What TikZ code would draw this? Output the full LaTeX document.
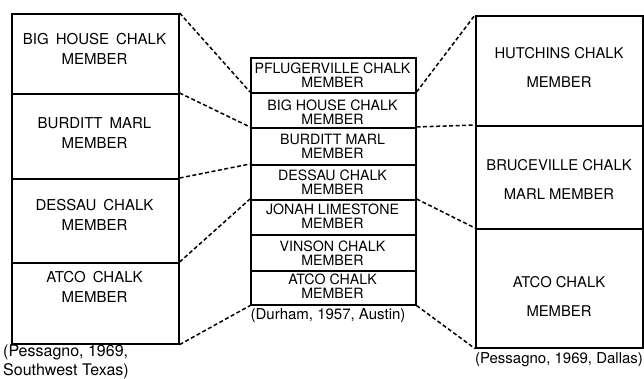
\documentclass[tikz,border=0pt]{standalone}
\usepackage{fontspec}
\setmainfont{TeX Gyre Heros}
\newcommand{\widespacing}{\spaceskip 7pt plus 1pt\relax}
\begin{document}
\begin{tikzpicture}[x=1pt,y=-1pt,
  box/.style={draw, line width=1.6pt, inner sep=0pt, anchor=north west},
  lw/.style={box, minimum width=167pt},
  cw/.style={box, minimum width=165pt},
  rw/.style={box, minimum width=167pt},
  conn/.style={line width=1.5pt, dash pattern=on 4pt off 2.5pt},
  lt/.style={align=center, inner sep=0pt, font={\fontsize{15}{20}\selectfont}},
  ct/.style={align=center, inner sep=0pt, font={\fontsize{14.2}{14}\selectfont}},
  rt/.style={align=center, inner sep=0pt, font={\fontsize{14.8}{29}\selectfont}},
  captext/.style={inner sep=0pt, font={\fontsize{15}{18}\selectfont}},
  capleft/.style={inner sep=0pt, align=left, font={\fontsize{16}{18.5}\selectfont}}]
\useasboundingbox (0,0) rectangle (644,379);
% left column
\node[lw, minimum height=80pt] (L1) at (11,13) {};
\node[lw, minimum height=85pt] (L2) at (11,93) {};
\node[lw, minimum height=84pt] (L3) at (11,178) {};
\node[lw, minimum height=81pt] (L4) at (11,262) {};
\node[lt] (tL1) at (94.5,49) {\widespacing BIG HOUSE CHALK\\MEMBER};
\node[lt] (tL2) at (94.5,133) {\widespacing BURDITT MARL\\MEMBER};
\node[lt] (tL3) at (94.5,215) {\widespacing DESSAU CHALK\\MEMBER};
\node[lt] (tL4) at (94.5,287) {\widespacing ATCO CHALK\\MEMBER};
% centre column
\node[cw, minimum height=35pt] (C1) at (250,57) {};
\node[cw, minimum height=35pt] (C2) at (250,92) {};
\node[cw, minimum height=37pt] (C3) at (250,127) {};
\node[cw, minimum height=35pt] (C4) at (250,164) {};
\node[cw, minimum height=35pt] (C5) at (250,199) {};
\node[cw, minimum height=36pt] (C6) at (250,234) {};
\node[cw, minimum height=34pt] (C7) at (250,270) {};
\node[ct] (tC1) at (332.5,75.5) {PFLUGERVILLE CHALK\\MEMBER};
\node[ct] (tC2) at (332.5,112) {BIG HOUSE CHALK\\MEMBER};
\node[ct] (tC3) at (332.5,146.5) {BURDITT MARL\\MEMBER};
\node[ct] (tC4) at (332.5,182.5) {DESSAU CHALK\\MEMBER};
\node[ct] (tC5) at (332.5,216) {JONAH LIMESTONE\\MEMBER};
\node[ct] (tC6) at (332.5,253.5) {VINSON CHALK\\MEMBER};
\node[ct] (tC7) at (332.5,286) {ATCO CHALK\\MEMBER};
% right column
\node[rw, minimum height=110pt] (R1) at (475,15) {};
\node[rw, minimum height=103pt] (R2) at (475,125) {};
\node[rw, minimum height=119pt] (R3) at (475,228) {};
\node[rt] (tR1) at (559,67.5) {HUTCHINS CHALK\\MEMBER};
\node[rt] (tR2) at (559,179) {BRUCEVILLE CHALK\\MARL MEMBER};
\node[rt] (tR3) at (559,296) {ATCO CHALK\\MEMBER};
% captions
\node[capleft, anchor=south west] (capL) at (3,379) {(Pessagno, 1969,\\Southwest Texas)};
\node[captext] (capC) at (328,316) {(Durham, 1957, Austin)};
\node[captext] (capR) at (559,360) {(Pessagno, 1969, Dallas)};
% connectors
\draw[conn] (L1.north east) -- (C2.north west);
\draw[conn] (L2.north east) -- (C3.north west);
\draw[conn] (L3.north east) -- (C4.north west);
\draw[conn] (L4.north east) -- (C5.north west);
\draw[conn] (L4.south east) -- (C7.south west);
\draw[conn] (C2.north east) -- (R1.north west);
\draw[conn] (C3.north east) -- (R2.north west);
\draw[conn] (C5.north east) -- (R3.north west);
\draw[conn] (C7.south east) -- (R3.south west);
\end{tikzpicture}
\end{document}
